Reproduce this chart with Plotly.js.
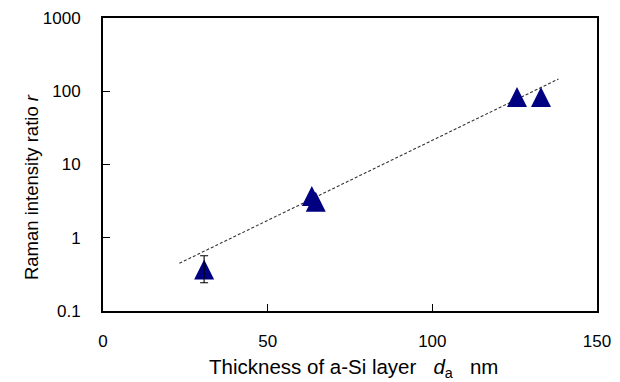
<!DOCTYPE html>
<html>
<head>
<meta charset="utf-8">
<script src="https://cdn.plot.ly/plotly-3.0.1.min.js"></script>
<style>html,body{margin:0;padding:0;background:#fff;}#chart{width:620px;height:382px;}</style>
</head>
<body>
<div id="chart"></div>
<script>
// Data
const thickness = [30.7, 63.4, 64.6, 125.7, 133.0];
const ratio = [0.333, 3.35, 2.8, 75, 75];
// Error bar on the first point
const errX = [30.7];
const errY = [0.333];
const errPlus = [0.236];
const errMinus = [0.09];
// Dashed trend line end points
const fitX = [23.2, 138.3];
const fitY = [0.448, 147];
const xTicks = [0, 50, 100, 150];
const yTicks = [0.1, 1, 10, 100, 1000];
const yTickText = ['0.1', '1', '10', '100', '1000'];
const xTitle = 'Thickness of a-Si layer&nbsp;&nbsp; <i>d</i><sub>a</sub>&nbsp;&nbsp; nm';
const yTitle = 'Raman intensity ratio <i>r</i>';

const markerSize = 20;
const traces = [
  {x: fitX, y: fitY, mode: 'lines', line: {color: '#333', width: 1.1, dash: '3px,2px'}, hoverinfo: 'skip'},
  {x: thickness, y: ratio, mode: 'markers',
   marker: {symbol: 'arrow-down', angle: 180, standoff: markerSize * 2 / 3, size: markerSize, color: '#000080'}},
  {x: errX, y: errY, mode: 'markers', marker: {size: 1, color: 'rgba(0,0,0,0)'},
   error_y: {type: 'data', symmetric: false, array: errPlus, arrayminus: errMinus, color: '#000', thickness: 1.1, width: 4}}
];

const layout = {
  width: 620, height: 382,
  margin: {l: 103, r: 23, t: 18, b: 71},
  showlegend: false,
  paper_bgcolor: '#fff', plot_bgcolor: '#fff',
  font: {family: 'Liberation Sans, Arial, sans-serif', color: '#000', size: 17},
  xaxis: {
    range: [0, 150], tickvals: xTicks, ticks: 'inside', ticklen: 7, tickwidth: 1, tickcolor: '#000',
    showline: true, linecolor: '#000', linewidth: 2, mirror: true, showgrid: false, zeroline: false,
    ticklabelstandoff: 14
  },
  yaxis: {
    type: 'log', range: [-1, 3], tickvals: yTicks, ticktext: yTickText, ticks: 'inside', ticklen: 7, tickwidth: 1, tickcolor: '#000',
    showline: true, linecolor: '#000', linewidth: 2, mirror: true, showgrid: false, zeroline: false,
    ticklabelstandoff: 17
  },
  annotations: [
    {text: xTitle, xref: 'paper', yref: 'paper', x: 0.507, y: -0.194, xanchor: 'center', yanchor: 'middle',
     showarrow: false, font: {size: 20.5}},
    {text: yTitle, xref: 'paper', yref: 'paper', x: -0.1457, y: 0.423, xanchor: 'center', yanchor: 'middle',
     textangle: -90, showarrow: false, font: {size: 18.5}}
  ]
};

Plotly.newPlot('chart', traces, layout, {displayModeBar: false, staticPlot: true});
</script>
</body>
</html>
